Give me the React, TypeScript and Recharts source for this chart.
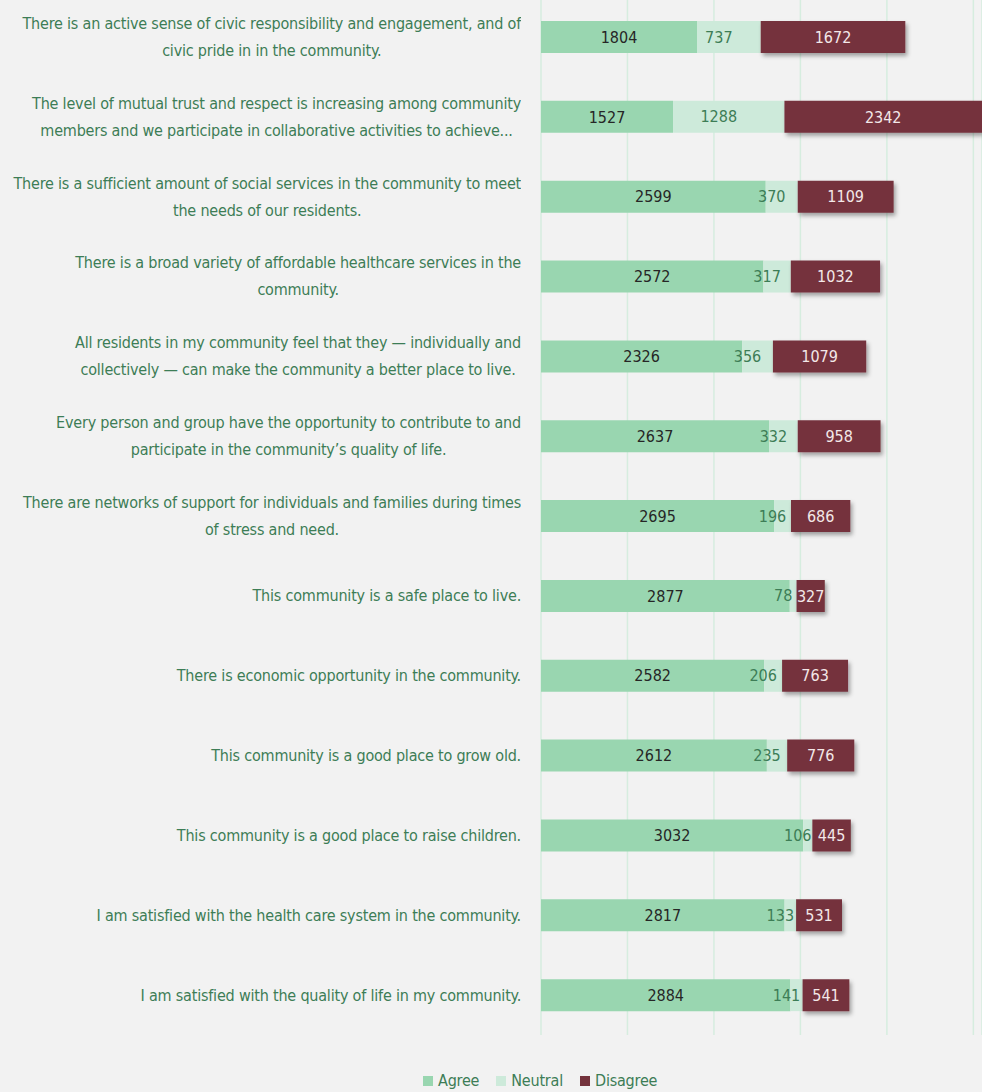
import { BarChart, Bar, XAxis, YAxis, CartesianGrid, Legend, LabelList } from "recharts";

const statements = [
  "There is an active sense of civic responsibility and engagement, and of\ncivic pride in in the community.",
  "The level of mutual trust and respect is increasing among community\nmembers and we participate in collaborative activities to achieve...",
  "There is a sufficient amount of social services in the community to meet\nthe needs of our residents.",
  "There is a broad variety of affordable healthcare services in the\ncommunity.",
  "All residents in my community feel that they \u2014 individually and\ncollectively \u2014 can make the community a better place to live.",
  "Every person and group have the opportunity to contribute to and\nparticipate in the community\u2019s quality of life.",
  "There are networks of support for individuals and families during times\nof stress and need.",
  "This community is a safe place to live.",
  "There is economic opportunity in the community.",
  "This community is a good place to grow old.",
  "This community is a good place to raise children.",
  "I am satisfied with the health care system in the community.",
  "I am satisfied with the quality of life in my community.",
];

const agree = [1804, 1527, 2599, 2572, 2326, 2637, 2695, 2877, 2582, 2612, 3032, 2817, 2884];
const neutral = [737, 1288, 370, 317, 356, 332, 196, 78, 206, 235, 106, 133, 141];
const disagree = [1672, 2342, 1109, 1032, 1079, 958, 686, 327, 763, 776, 445, 531, 541];

const xTicks = [0, 1000, 2000, 3000, 4000, 5000];

const FONT = '"DejaVu Sans Condensed", "Liberation Sans", sans-serif';
const GREEN_TEXT = "#3d7d56";
const AGREE = "#99d6b0";
const NEUTRAL = "#cdeada";
const DISAGREE = "#74333c";

const data = statements.map((s, i) => ({
  statement: s,
  Agree: agree[i],
  Neutral: neutral[i],
  Disagree: disagree[i],
}));

function StatementTick(props: any) {
  const { y, payload } = props;
  return (
    <foreignObject x={0} y={y - 40} width={521} height={80}>
      <div
        style={{
          display: "flex",
          height: "100%",
          alignItems: "center",
          justifyContent: "flex-end",
        }}
      >
        <div
          style={{
            textAlign: "center",
            whiteSpace: "pre",
            fontFamily: FONT,
            fontSize: 16,
            letterSpacing: -0.2,
            lineHeight: "27px",
            color: GREEN_TEXT,
          }}
        >
          {payload.value}
        </div>
      </div>
    </foreignObject>
  );
}

// neutral labels sit a little left of the segment centre, like the source
function NeutralLabel(props: any) {
  const { x, y, width, height, value } = props;
  return (
    <text
      x={Number(x) + Number(width) / 2 - 10}
      y={Number(y) + Number(height) / 2}
      textAnchor="middle"
      dominantBaseline="central"
      fill={GREEN_TEXT}
      fontSize={16}
      fontFamily={FONT}
    >
      {value}
    </text>
  );
}

const legendItems = [
  { name: "Agree", color: AGREE },
  { name: "Neutral", color: NEUTRAL },
  { name: "Disagree", color: DISAGREE },
];

function LegendContent() {
  return (
    <div style={{ display: "flex", gap: 17, fontFamily: FONT, fontSize: 16, letterSpacing: -0.2, color: GREEN_TEXT }}>
      {legendItems.map((it) => (
        <div key={it.name} style={{ display: "flex", alignItems: "center", gap: 5 }}>
          <span style={{ width: 10, height: 10, background: it.color, display: "inline-block" }} />
          <span>{it.name}</span>
        </div>
      ))}
    </div>
  );
}

export default function App() {
  return (
    <div style={{ position: "absolute", left: 0, top: 0, width: 982, height: 1092, background: "#f2f2f2" }}>
      <BarChart
        width={982}
        height={1092}
        data={data}
        layout="vertical"
        margin={{ top: -3, right: 0, bottom: 38, left: 0 }}
        barSize={32}
      >
        <defs>
          <filter id="barShadow" x="-10%" y="-20%" width="130%" height="160%">
            <feDropShadow dx="2" dy="3" stdDeviation="2" floodColor="#000" floodOpacity="0.35" />
          </filter>
        </defs>
        <CartesianGrid horizontal={false} stroke="#d6eddf" strokeWidth={1.5} />
        <XAxis
          type="number"
          domain={[0, 5100]}
          ticks={xTicks}
          allowDataOverflow
          hide
        />
        <YAxis
          type="category"
          dataKey="statement"
          width={541}
          axisLine={false}
          tickLine={false}
          tick={<StatementTick />}
          interval={0}
        />
        <Legend
          content={<LegendContent />}
          wrapperStyle={{ top: 1071, left: 423, width: "auto" }}
        />
        <Bar dataKey="Agree" stackId="a" fill={AGREE} isAnimationActive={false}>
          <LabelList dataKey="Agree" position="center" fill="#262626" fontSize={16} fontFamily={FONT} />
        </Bar>
        <Bar dataKey="Neutral" stackId="a" fill={NEUTRAL} isAnimationActive={false}>
          <LabelList dataKey="Neutral" content={<NeutralLabel />} />
        </Bar>
        <Bar
          dataKey="Disagree"
          stackId="a"
          fill={DISAGREE}
          isAnimationActive={false}
          style={{ filter: "url(#barShadow)" }}
        >
          <LabelList dataKey="Disagree" position="center" fill="#f3e8e8" fontSize={16} fontFamily={FONT} />
        </Bar>
      </BarChart>
    </div>
  );
}
